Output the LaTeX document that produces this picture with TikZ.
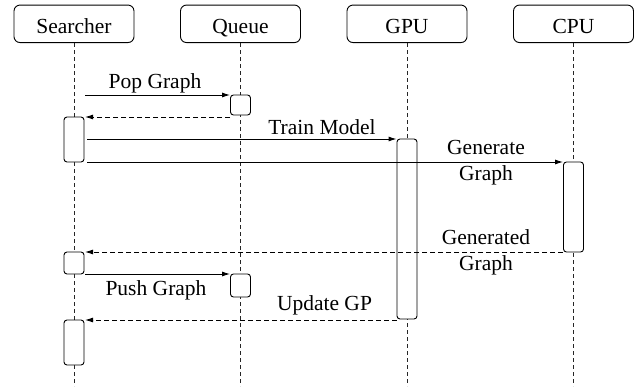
\documentclass[tikz,border=0pt]{standalone}
\usepackage{fontspec}
\newfontfamily\lserif{Liberation Serif}
\usetikzlibrary{arrows.meta}
\begin{document}
\begin{tikzpicture}[x=1pt,y=-1pt,
  every node/.style={font=\lserif\fontsize{21.5}{26}\selectfont},
  head/.style={draw,rounded corners=6pt,minimum width=120pt,minimum height=37.5pt,inner sep=0pt,text height=19pt,text depth=0pt,line width=0.9pt},
  act/.style={draw,fill=white,rounded corners=3pt,minimum width=20pt,inner sep=0pt,line width=0.9pt},
  life/.style={dash pattern=on 4pt off 3pt,line width=0.8pt,black!85},
  msg/.style={-{Latex[length=8pt,width=5pt]},line width=0.9pt},
  ret/.style={msg,dash pattern=on 5pt off 3pt},
  lbl/.style={anchor=base,inner sep=0pt}]
\useasboundingbox (0,0) rectangle (635,386);
% headers
\node[head] (S) at (74,23.8) {Searcher};
\node[head] (Q) at (240.5,23.8) {Queue};
\node[head] (G) at (407,23.8) {GPU};
\node[head] (C) at (573.5,23.8) {CPU};
% lifelines
\coordinate (Se) at (74,386);
\coordinate (Qe) at (240.5,386);
\coordinate (Ge) at (407,386);
\coordinate (Ce) at (573.5,386);
\draw[life] (S.south) -- (Se);
\draw[life] (Q.south) -- (Qe);
\draw[life] (G.south) -- (Ge);
\draw[life] (C.south) -- (Ce);
% activations
\node[act,minimum height=20pt] (Q1) at (240.5,105) {};
\node[act,minimum height=45pt] (S1) at (74,139.5) {};
\node[act,minimum height=180pt] (G1) at (407,229) {};
\node[act,minimum height=90pt] (C1) at (573.5,207) {};
\node[act,minimum height=22pt] (S2) at (74,263) {};
\node[act,minimum height=23pt] (Q2) at (240.5,285.5) {};
\node[act,minimum height=45pt] (S3) at (74,342.5) {};
% messages
\coordinate (a1) at (85,95);
\draw[msg] (a1) -- (a1 -| Q1.west);
\coordinate (a2) at (85,117);
\draw[ret] (a2 -| Q1.west) -- (a2);
\coordinate (t0) at (87,139);
\draw[msg] (t0) -- (t0 -| G1.west);
\coordinate (g0) at (87,162);
\draw[msg] (g0) -- (g0 -| C1.west);
\coordinate (r0) at (85,252);
\draw[ret] (r0 -| C1.west) -- (r0);
\coordinate (p0) at (85,274);
\draw[msg] (p0) -- (p0 -| Q2.west);
\coordinate (u0) at (85,320);
\draw[ret] (u0 -| G1.west) -- (u0);
% labels
\node[lbl] (lpop) at (155,88) {Pop Graph};
\node[lbl] (ltrain) at (322,134) {Train Model};
\node[lbl] (lgen1) at (486,154) {Generate};
\node[lbl] (lgen2) at (486,180) {Graph};
\node[lbl] (lgd1) at (486,244) {Generated};
\node[lbl] (lgd2) at (486,270) {Graph};
\node[lbl] (lpush) at (156,295) {Push Graph};
\node[lbl] (lupd) at (324.5,310) {Update GP};
\end{tikzpicture}
\end{document}
